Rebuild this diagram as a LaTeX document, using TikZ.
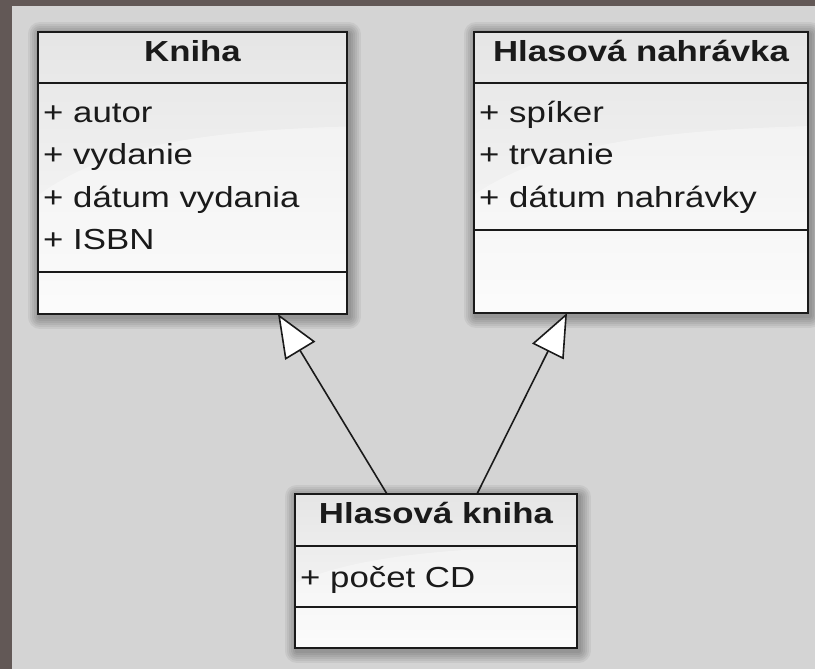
\documentclass[tikz,border=0pt]{standalone}
\usepackage{fontspec}
\setmainfont{Liberation Sans}[FakeStretch=1.2]
\usetikzlibrary{calc,arrows.meta}

\definecolor{frame}{HTML}{625856}
\definecolor{canvas}{HTML}{D4D4D4}
\definecolor{ink}{HTML}{1A1A1A}

\tikzset{
  % one soft ring of the drop shadow, stroked around the box outline
  shadowring/.style={preaction={draw=black, draw opacity=0.055, line width=#1,
    line join=round, transform canvas={xshift=1.5pt, yshift=-2.5pt}}},
  softshadow/.style={shadowring=24pt, shadowring=20pt, shadowring=16pt,
    shadowring=12pt, shadowring=8pt, shadowring=4pt},
  % soft glossy sheen across the lower part of a class box
  sheen/.style={path picture={
    \fill[white, fill opacity=0.35]
      let \p1=(path picture bounding box.north west),
          \p2=(path picture bounding box.south east) in
      (\x1,\y2)
      -- ({\x1}, {\y1+0.58*(\y2-\y1)})
      .. controls ({\x1+0.22*(\x2-\x1)}, {\y1+0.40*(\y2-\y1)})
             and ({\x1+0.55*(\x2-\x1)}, {\y1+0.35*(\y2-\y1)})
      .. ({\x2}, {\y1+0.335*(\y2-\y1)})
      -- (\x2,\y2) -- cycle;
  }},
  umlclass/.style={rectangle, draw=ink, line width=2.4pt, inner sep=0pt, outer sep=0pt,
    anchor=north west, softshadow, top color=black!10, bottom color=white!98!black,
    sheen},
  divider/.style={draw=ink, line width=2.2pt},
  classname/.style={anchor=base, inner sep=0pt, text=ink,
    font=\bfseries\fontsize{29}{35}\selectfont},
  member/.style={anchor=base west, inner sep=0pt, text=ink,
    font=\fontsize{29}{35}\selectfont},
  generalization/.style={draw=ink, line width=1.6pt,
    -{Triangle[length=43pt, width=35pt, fill=white, line width=1.6pt]}},
}

\begin{document}
\begin{tikzpicture}[x=1pt, y=-1pt]
  % page frame and canvas
  \fill[frame] (0,0) rectangle (815,669);
  \fill[canvas] (12,6) rectangle (815,669);
  \useasboundingbox (0,0) rectangle (815,669);

  % class Kniha
  \node[umlclass, minimum width=309pt, minimum height=282pt] (kniha) at (38,32) {};
  \draw[divider] ($(kniha.north west)+(0,51)$) -- ($(kniha.north east)+(0,51)$);
  \draw[divider] ($(kniha.north west)+(0,240)$) -- ($(kniha.north east)+(0,240)$);
  \node[classname] (kniha-name) at ($(kniha.north)+(0,30)$) {Kniha};
  \node[member] (kniha-a1) at ($(kniha.north west)+(5,90)$) {+ autor};
  \node[member] (kniha-a2) at ($(kniha.north west)+(5,132.5)$) {+ vydanie};
  \node[member] (kniha-a3) at ($(kniha.north west)+(5,175)$) {+ dátum vydania};
  \node[member] (kniha-a4) at ($(kniha.north west)+(5,217.5)$) {+ ISBN};

  % class Hlasová nahrávka
  \node[umlclass, minimum width=334pt, minimum height=281pt] (nahr) at (474,32) {};
  \draw[divider] ($(nahr.north west)+(0,51)$) -- ($(nahr.north east)+(0,51)$);
  \draw[divider] ($(nahr.north west)+(0,198)$) -- ($(nahr.north east)+(0,198)$);
  \node[classname] (nahr-name) at ($(nahr.north)+(0,30)$) {Hlasová nahrávka};
  \node[member] (nahr-a1) at ($(nahr.north west)+(5,90)$) {+ spíker};
  \node[member] (nahr-a2) at ($(nahr.north west)+(5,132.5)$) {+ trvanie};
  \node[member] (nahr-a3) at ($(nahr.north west)+(5,175)$) {+ dátum nahrávky};

  % class Hlasová kniha
  \node[umlclass, minimum width=282pt, minimum height=154pt] (hk) at (295,494) {};
  \draw[divider] ($(hk.north west)+(0,52)$) -- ($(hk.north east)+(0,52)$);
  \draw[divider] ($(hk.north west)+(0,113)$) -- ($(hk.north east)+(0,113)$);
  \node[classname] (hk-name) at ($(hk.north)+(0,29)$) {Hlasová kniha};
  \node[member] (hk-a1) at ($(hk.north west)+(5,93)$) {+ počet CD};

  % generalizations
  \draw[generalization] ($(hk.north west)+(92,0)$) -- ($(kniha.south west)+(240,0)$);
  \draw[generalization] ($(hk.north west)+(182,0)$) -- ($(nahr.south west)+(93,0)$);
\end{tikzpicture}
\end{document}
